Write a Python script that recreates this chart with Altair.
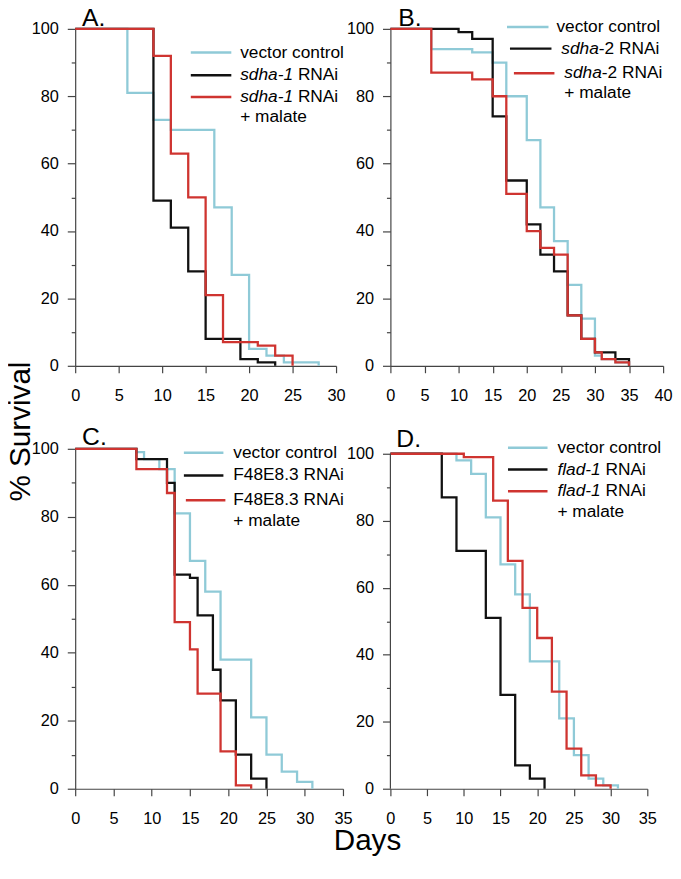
import altair as alt
import pandas as pd

FONT = "Liberation Sans"
CYAN = "#8fcad7"
BLACK = "#111111"
RED = "#cf3430"

# ---------------- data (day of step, % survival after step) ----------------
A_vec_days = [0, 6, 9, 11, 16, 18, 20, 22, 24, 28]
A_vec_surv = [100, 81, 73, 70, 47, 27, 5, 3, 1, 0]
A_rnai_days = [0, 9, 11, 13, 15, 19, 21, 23]
A_rnai_surv = [100, 49, 41, 28, 8, 2, 1, 0]
A_mal_days = [0, 9, 11, 13, 15, 17, 21, 23, 25]
A_mal_surv = [100, 92, 63, 50, 21, 7, 6, 3, 0]

B_vec_days = [0, 6, 12, 15, 17, 20, 22, 24, 26, 28, 30, 31, 33, 35]
B_vec_surv = [100, 94, 93, 90, 80, 67, 47, 37, 24, 14, 3, 2, 1, 0]
B_rnai_days = [0, 10, 12, 15, 17, 20, 22, 24, 26, 28, 30, 33, 35]
B_rnai_surv = [100, 99, 97, 74, 55, 42, 33, 28, 15, 8, 4, 2, 0]
B_mal_days = [0, 6, 12, 15, 17, 20, 22, 24, 26, 28, 30, 31, 33, 35]
B_mal_surv = [100, 87, 85, 80, 51, 40, 35, 33, 15, 8, 4, 2, 1, 0]

C_vec_days = [0, 8, 9, 11, 13, 15, 17, 19, 23, 25, 27, 29, 31]
C_vec_surv = [100, 99, 97, 94, 81, 67, 58, 38, 21, 10, 5, 2, 0]
C_rnai_days = [0, 8, 12, 13, 15, 16, 18, 19, 21, 23, 25]
C_rnai_surv = [100, 97, 90, 63, 62, 51, 35, 26, 10, 3, 0]
C_mal_days = [0, 8, 12, 13, 15, 16, 19, 21, 23]
C_mal_surv = [100, 94, 87, 49, 41, 28, 11, 1, 0]

D_vec_days = [0, 9, 11, 13, 15, 17, 19, 23, 25, 27, 29, 31]
D_vec_surv = [100, 98, 94, 81, 67, 58, 38, 21, 10, 3, 1, 0]
D_rnai_days = [0, 7, 9, 13, 15, 17, 19, 21]
D_rnai_surv = [100, 87, 71, 51, 28, 7, 3, 0]
D_mal_days = [0, 10, 14, 16, 18, 20, 22, 24, 26, 28, 30]
D_mal_surv = [100, 99, 86, 68, 54, 45, 29, 12, 4, 1, 0]

Y_TICKS = list(range(0, 101, 10))

LEG_FS = 17.5
CHAR_W = {"s": 0.5, "d": 0.556, "h": 0.556, "a": 0.556, "-": 0.333, "1": 0.556,
          "2": 0.556, "f": 0.278, "l": 0.222, " ": 0.278}


def text_w(s):
    return sum(CHAR_W.get(c, 0.556) for c in s) * LEG_FS


def one(t):
    return pd.DataFrame({"t": [t]})


def panel(letter, xmax, width, height, series, legend, letter_pos, ymax=100, own_axis_line=False):
    xsc = alt.Scale(domain=[0, xmax], nice=False, zero=True)
    ysc = alt.Scale(domain=[0, ymax], nice=False, zero=True)
    xax = alt.Axis(values=list(range(0, xmax + 1, 5)), title=None, tickSize=7,
                   labelPadding=15, grid=False, labelFlush=False, labelOverlap=False)
    yax = alt.Axis(values=Y_TICKS, title=None, grid=False, domain=not own_axis_line,
                   labelExpr="datum.value % 20 == 0 ? datum.label : ''",
                   tickSize={"condition": {"test": "datum.value % 20 != 0", "value": 4}, "value": 8},
                   labelPadding=9, labelFlush=False, labelOverlap=False)
    layers = []
    for days, surv, color in series:
        df = pd.DataFrame({"day": days, "surv": surv})
        layers.append(
            alt.Chart(df).mark_line(interpolate="step-after", color=color, strokeWidth=2.3)
            .encode(x=alt.X("day:Q", scale=xsc, axis=xax), y=alt.Y("surv:Q", scale=ysc, axis=yax))
        )
    if own_axis_line:
        layers.append(
            alt.Chart(one("axis")).mark_rule(color="#444444", strokeWidth=1.2)
            .encode(x=alt.XDatum(0, type="quantitative", scale=xsc, axis=xax),
                    y=alt.YDatum(0, type="quantitative", scale=ysc, axis=yax),
                    y2=alt.Y2Datum(100))
        )
    for color, (lx0, lx1, ly), parts in legend:
        layers.append(
            alt.Chart(one("l")).mark_rule(color=color, strokeWidth=2.5)
            .encode(x=alt.value(lx0), x2=alt.value(lx1), y=alt.value(ly))
        )
        for (tx, ty, txt, ital) in parts:
            mk = dict(align="left", baseline="middle", fontSize=LEG_FS, font=FONT, color="black")
            if ital:
                mk["fontStyle"] = "italic"
            layers.append(
                alt.Chart(one(txt)).mark_text(**mk)
                .encode(x=alt.value(tx), y=alt.value(ty), text="t:N")
            )
    lx, ly = letter_pos
    layers.append(
        alt.Chart(one(letter)).mark_text(align="left", baseline="alphabetic", fontSize=25,
                                         font=FONT, color="black")
        .encode(x=alt.value(lx), y=alt.value(ly), text="t:N")
    )
    return alt.layer(*layers).properties(width=width, height=height)


def mixed(x, y, ital, rest):
    w = text_w(ital)
    return [(x, y, ital, True), (x + w + (text_w(" ") if rest.startswith(" ") else 0), y, rest.strip(), False)]


legA = [
    (CYAN, (117, 158, 24), [(167, 24, "vector control", False)]),
    (BLACK, (117, 158, 47), mixed(167, 47, "sdha-1", " RNAi")),
    (RED, (117, 158, 69), mixed(167, 69, "sdha-1", " RNAi") + [(167, 89, "+ malate", False)]),
]
chartA = panel("A.", 30, 264, 341,
               [(A_vec_days, A_vec_surv, CYAN), (A_rnai_days, A_rnai_surv, BLACK),
                (A_mal_days, A_mal_surv, RED)], legA, (7, -2.5))

legB = [
    (CYAN, (118, 160, -2), [(168, -2, "vector control", False)]),
    (BLACK, (121, 163, 20), mixed(173, 20, "sdha", "-2 RNAi")),
    (RED, (125, 166, 45), mixed(176, 45, "sdha", "-2 RNAi") + [(176, 65, "+ malate", False)]),
]
chartB = panel("B.", 40, 276, 341,
               [(B_vec_days, B_vec_surv, CYAN), (B_rnai_days, B_rnai_surv, BLACK),
                (B_mal_days, B_mal_surv, RED)], legB, (8, -2.5))

legC = [
    (CYAN, (110, 150, 4), [(160, 4, "vector control", False)]),
    (BLACK, (110, 150, 27), [(160, 27, "F48E8.3 RNAi", False)]),
    (RED, (112, 152, 52), [(160, 52, "F48E8.3 RNAi", False), (160, 73, "+ malate", False)]),
]
chartC = panel("C.", 35, 271, 344,
               [(C_vec_days, C_vec_surv, CYAN), (C_rnai_days, C_rnai_surv, BLACK),
                (C_mal_days, C_mal_surv, RED)], legC, (7, -4))

D_H = 344
D_YMAX = 100 * D_H / 339
legD = [
    (CYAN, (119, 159, -1), [(169, -1, "vector control", False)]),
    (BLACK, (119, 159, 21), mixed(169, 21, "flad-1", " RNAi")),
    (RED, (119, 159, 43), mixed(169, 43, "flad-1", " RNAi") + [(169, 64, "+ malate", False)]),
]
chartD = panel("D.", 35, 260, D_H,
               [(D_vec_days, D_vec_surv, CYAN), (D_rnai_days, D_rnai_surv, BLACK),
                (D_mal_days, D_mal_surv, RED)], legD, (6, -2), ymax=D_YMAX, own_axis_line=True)

grid = alt.concat(chartA, chartB, chartC, chartD, columns=2, align="none", bounds="flush",
                  spacing={"row": 84, "column": 48},
                  title=alt.TitleParams("Days", orient="bottom", fontSize=30, font=FONT,
                                        fontWeight="normal", color="black", offset=0,
                                        anchor="middle", dx=16))

chart = alt.vconcat(grid,
                    title=alt.TitleParams("% Survival", orient="left", fontSize=30, font=FONT,
                                          fontWeight="normal", color="black", offset=-5,
                                          anchor="middle")
                    ).properties(
    padding={"left": -2, "top": -7, "right": 0, "bottom": -3}
).configure_view(stroke=None).configure_axis(
    labelFont=FONT, labelFontSize=16.5, labelColor="black",
    domainColor="#444444", domainWidth=1.2, tickColor="#444444", tickWidth=1.2
)

chart.save("out.html", embed_options={"renderer": "svg", "actions": False})
